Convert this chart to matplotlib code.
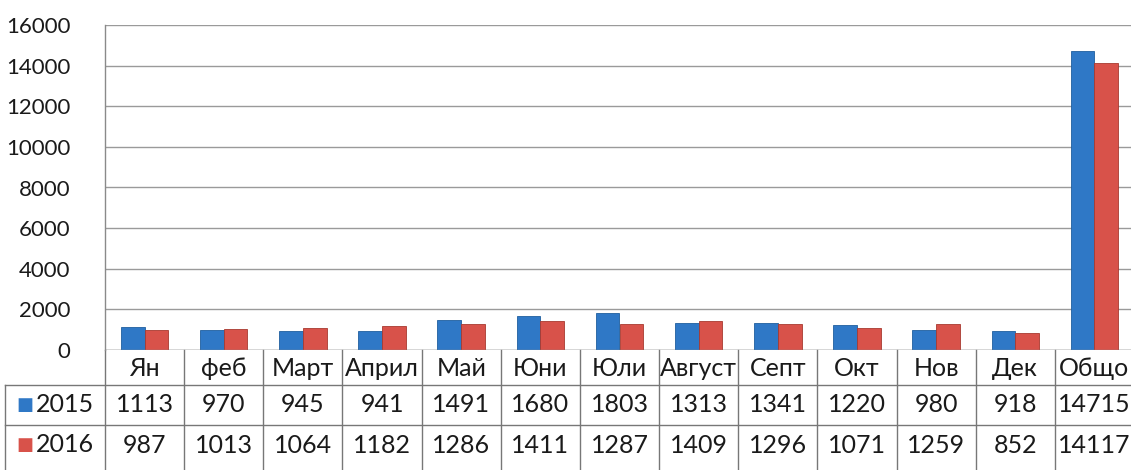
import matplotlib
matplotlib.use("Agg")
import matplotlib.pyplot as plt
from matplotlib.lines import Line2D
import numpy as np

categories = ["Ян", "феб", "Март", "Април", "Май", "Юни", "Юли", "Август", "Септ", "Окт", "Нов", "Дек", "Общо"]
series_names = ["2015", "2016"]
values_2015 = [1113, 970, 945, 941, 1491, 1680, 1803, 1313, 1341, 1220, 980, 918, 14715]
values_2016 = [987, 1013, 1064, 1182, 1286, 1411, 1287, 1409, 1296, 1071, 1259, 852, 14117]
colors = ["#2F78C6", "#D8524A"]
yticks = [0, 2000, 4000, 6000, 8000, 10000, 12000, 14000, 16000]

plt.rcParams['font.family'] = ['Lato', 'DejaVu Sans']

W, H = 1131, 470
fig = plt.figure(figsize=(W / 100, H / 100), dpi=100)
ax = fig.add_axes([105 / W, (H - 350) / H, (1134 - 105) / W, (350 - 25) / H])

x = np.arange(len(categories))
bw = 0.30
ax.bar(x - bw / 2, values_2015, bw, color=colors[0], edgecolor="#1F5E9E", linewidth=0.6, zorder=3)
ax.bar(x + bw / 2, values_2016, bw, color=colors[1], edgecolor="#A8392F", linewidth=0.6, zorder=3)

ax.set_xlim(-0.5, len(categories) - 0.5)
ax.set_ylim(0, 16000)
ax.set_yticks(yticks)
ax.set_yticklabels([str(t) for t in yticks], fontsize=16, color="#1a1a1a")
ax.tick_params(axis='y', length=0, pad=25)
ax.set_xticks([])
ax.grid(axis='y', color="#9a9a9a", linewidth=1.0, zorder=0)
for s in ["top", "right", "bottom"]:
    ax.spines[s].set_visible(False)
ax.spines["left"].set_color("#8a8a8a")
ax.spines["left"].set_linewidth(1.0)
ax.axhline(0, color="#8a8a8a", linewidth=1.0, zorder=4)

trans = ax.get_xaxis_transform()  # x in data, y in axes fraction
def ypix(p):
    return (350 - p) / (350 - 25)

line_kw = dict(color="#777777", linewidth=1.0, clip_on=False, transform=trans)
left_data = -0.5 - (105 - 5) / ((1134 - 105) / len(categories))
for yy in [385, 425]:
    ax.add_line(Line2D([left_data, len(categories) - 0.5], [ypix(yy), ypix(yy)], **line_kw))
for i in range(len(categories) + 1):
    xx = i - 0.5
    ax.add_line(Line2D([xx, xx], [ypix(350), ypix(470)], **line_kw))
ax.add_line(Line2D([left_data, left_data], [ypix(385), ypix(470)], **line_kw))

for i, c in enumerate(categories):
    ax.text(i, ypix(368), c, transform=trans, ha="center", va="center", fontsize=18, color="#1a1a1a",
            clip_on=False)

rows = [values_2015, values_2016]
centers = [405, 445]
for r, (vals, cy) in enumerate(zip(rows, centers)):
    for i, v in enumerate(vals):
        ax.text(i, ypix(cy), str(v), transform=trans, ha="center", va="center", fontsize=18,
                color="#1a1a1a", clip_on=False)
    fig.text(16 / W, (H - cy) / H, "■", ha="left", va="center", fontsize=13, color=colors[r],
             family="DejaVu Sans")
    fig.text(36 / W, (H - cy) / H, series_names[r], ha="left", va="center", fontsize=18,
             color="#1a1a1a")

fig.savefig("out.png", dpi=100)
